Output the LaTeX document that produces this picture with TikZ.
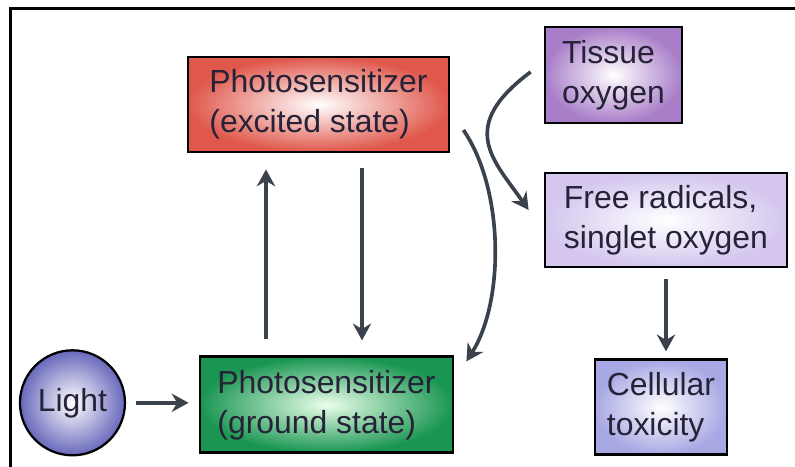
\documentclass[tikz,border=0pt]{standalone}
\usepackage{fontspec}
\setmainfont{Liberation Sans}
\usetikzlibrary{arrows.meta, positioning, calc}

\definecolor{arrowgray}{RGB}{58,66,76}
\definecolor{textnavy}{RGB}{38,34,56}
\definecolor{excitedred}{RGB}{224,88,76}
\definecolor{groundgreen}{RGB}{26,150,82}
\definecolor{tissuepurple}{RGB}{168,126,200}
\definecolor{radicallilac}{RGB}{212,198,238}
\definecolor{toxicblue}{RGB}{168,168,228}
\definecolor{lightblue}{RGB}{104,104,188}

\begin{document}
\begin{tikzpicture}[>={Stealth[length=12pt, width=13pt]},
  statebox/.style={draw, line width=2pt, inner sep=0pt, align=left,
                   font=\fontsize{22.7}{28.4}\selectfont, text=textnavy},
  flow/.style={->, line width=2.6pt, draw=arrowgray}]
  \useasboundingbox (0,0) rectangle (19.875,-11.675);
  \draw[line width=2.1pt] (0.2625,-11.675) -- (0.2625,-0.2125) -- (19.875,-0.2125);

  \node[statebox, minimum width=6.525cm, minimum height=2.375cm,
        inner color=white, outer color=excitedred] (excited) at (7.9625,-2.6125)
        {Photosensitizer\\(excited state)};
  \node[statebox, minimum width=6.325cm, minimum height=2.4cm,
        inner color=green!8, outer color=groundgreen,
        below=5.05cm of excited, xshift=0.2cm] (ground)
        {Photosensitizer\\(ground state)};
  \node[statebox, circle, line width=1.6pt, minimum size=2.625cm,
        inner color=white, outer color=lightblue,
        left=1.8125cm of ground, yshift=0.05cm] (light) {Light};
  \node[statebox, minimum width=3.425cm, minimum height=2.4cm,
        inner color=white, outer color=tissuepurple] (tissue) at (15.3375,-1.875)
        {Tissue\\oxygen};
  \node[statebox, minimum width=6.05cm, minimum height=2.35cm,
        inner color=white, outer color=radicallilac] (free) at (16.65,-5.5)
        {Free radicals,\\singlet oxygen};
  \node[statebox, minimum width=3.3cm, minimum height=2.375cm,
        inner color=white, outer color=toxicblue,
        below=2.25cm of free, xshift=-0.125cm] (toxic)
        {Cellular\\toxicity};

  \draw[flow, shorten <=0.4cm, shorten >=0.4cm]
    ([xshift=-1.5125cm]ground.north) -- ([xshift=-1.3125cm]excited.south);
  \draw[flow, shorten <=0.375cm, shorten >=0.375cm]
    ([xshift=1.0875cm]excited.south) -- ([xshift=0.8875cm]ground.north);
  \draw[flow, shorten <=0.25cm, shorten >=0.25cm]
    (light.east) -- (light.east -| ground.west);
  \draw[flow, shorten <=0.275cm, shorten >=0.175cm]
    (free.south) -- (free.south |- toxic.north);
  \draw[flow] ([xshift=0.325cm, yshift=-0.6375cm]excited.east)
    .. controls +(1.025cm,-1.5cm) and +(0.95cm,1.5cm) ..
    ([xshift=0.3cm, yshift=-0.15cm]ground.north east);
  \draw[flow] ([xshift=-0.325cm, yshift=0.075cm]tissue.west)
    .. controls +(-1.85cm,-1.375cm) and +(-0.875cm,1.25cm) ..
    ([xshift=-0.375cm, yshift=0.25cm]free.west);
\end{tikzpicture}
\end{document}
